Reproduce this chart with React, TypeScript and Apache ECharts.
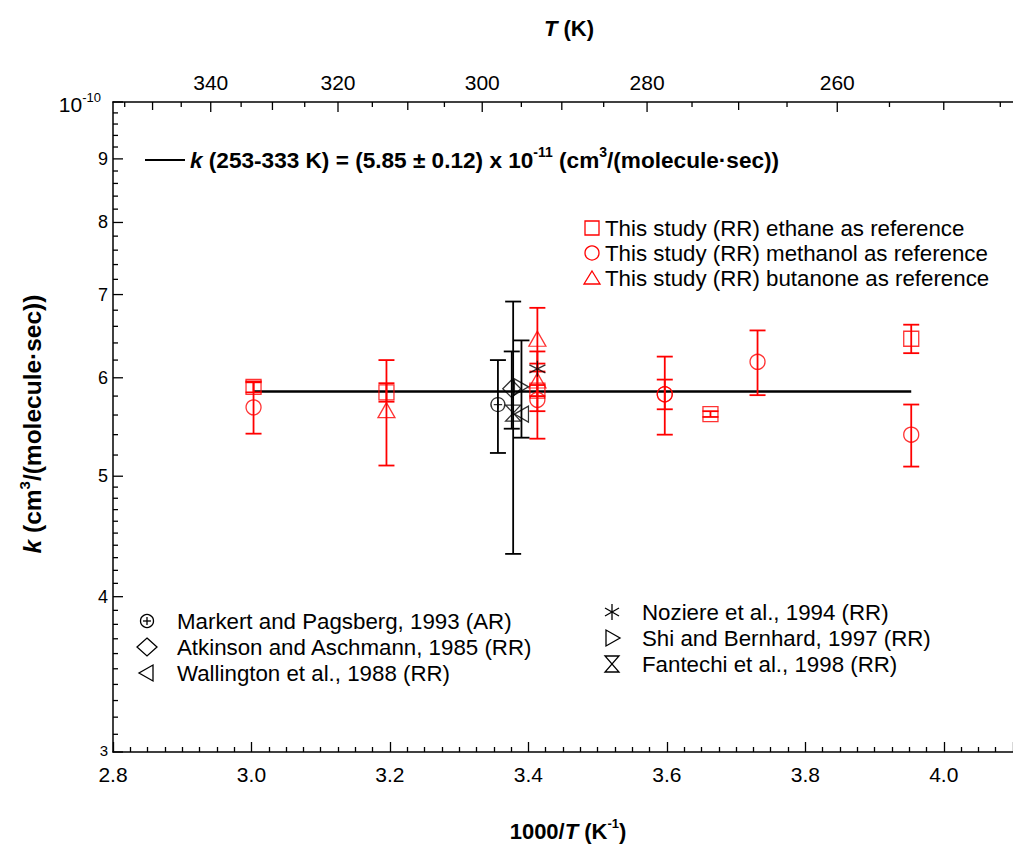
import React, { useEffect, useRef } from "react";
import * as echarts from "echarts";

const FONT = "'Liberation Sans', Arial, sans-serif";
const RED = "#ff0000";
const BLACK = "#000000";

// ---- axes ----
const xMin = 2.8;
const xMax = 4.1;
const xStep = 0.2;
const yMin = 3;
const yMax = 10;
const yMajorTicks = [3, 4, 5, 6, 7, 8, 9, 10];
const yLabelValues = [3, 4, 5, 6, 7, 8, 9];
const yMinorTicks = [
  3.1, 3.2, 3.3, 3.4, 3.5, 3.6, 3.7, 3.8, 3.9,
  4.1, 4.2, 4.3, 4.4, 4.5, 4.6, 4.7, 4.8, 4.9,
  5.2, 5.4, 5.6, 5.8, 6.2, 6.4, 6.6, 6.8, 7.2, 7.4, 7.6, 7.8,
  8.2, 8.4, 8.6, 8.8, 9.2, 9.4, 9.6, 9.8,
];
const topTickT = [355, 350, 345, 340, 335, 330, 325, 320, 315, 310, 305, 300, 295, 290, 285, 280, 275, 270, 265, 260, 255, 250, 245];
const topLabelT = [340, 320, 300, 280, 260];

// ---- fit line ----
const fitX = [3.003, 3.953];
const fitK = [5.85, 5.85];

// ---- this study (1000/T, k in 1e-11, error) ----
const ethaneX = [3.003, 3.195, 3.413, 3.663, 3.953];
const ethaneK = [5.9, 5.84, 5.86, 5.61, 6.45];
const ethaneErr = [0.06, 0.1, 0.06, 0.03, 0.17];

const methanolX = [3.003, 3.413, 3.597, 3.597, 3.731, 3.953];
const methanolK = [5.68, 5.76, 5.82, 5.82, 6.18, 5.4];
const methanolErr = [0.27, 0.4, 0.42, 0.16, 0.37, 0.31];

const butanoneX = [3.195, 3.413, 3.413];
const butanoneK = [5.65, 6.45, 5.97];
const butanoneErr = [0.55, 0.38, 0.33];

// ---- literature ----
const markertX = [3.356];
const markertK = [5.71];
const markertErr = [0.49];
const atkinsonX = [3.376];
const atkinsonK = [5.88];
const atkinsonErr = [0.42];
const wallingtonX = [3.39];
const wallingtonK = [5.61];
const noziereX = [3.413];
const noziereK = [6.1];
const shiX = [3.39];
const shiK = [5.9];
const shiErr = [0.53];
const fantechiX = [3.378];
const fantechiK = [5.62];
const fantechiErr = [1.29];

const SYM = {
  tri: "path://M10,0 L20,17 L0,17 Z",
  circlePlus: "path://M10,0 A10,10 0 1,1 9.99,0 Z M10,4 L10,16 M4,10 L16,10",
  diamond: "path://M10,0 L20,10 L10,20 L0,10 Z",
  triLeft: "path://M17,0 L17,20 L0,10 Z",
  triRight: "path://M0,0 L0,20 L17,10 Z",
  star: "path://M10,0 L10,20 M1,5 L19,15 M1,15 L19,5",
  hourglass: "path://M0,0 L20,0 L0,20 L20,20 Z",
};

function zip(xs: number[], ks: number[]) {
  return xs.map((x, i) => [x, ks[i]]);
}

function errSeries(xs: number[], ks: number[], errs: number[], color: string) {
  return {
    type: "custom",
    silent: true,
    z: 3,
    data: xs.map((x, i) => [x, ks[i] - errs[i], ks[i] + errs[i]]),
    encode: { x: 0, y: [1, 2] },
    renderItem: (_p: any, api: any) => {
      const x = api.value(0);
      const lo = api.coord([x, api.value(1)]);
      const hi = api.coord([x, api.value(2)]);
      const w = 8;
      const st = { stroke: color, lineWidth: 1.8 };
      return {
        type: "group",
        children: [
          { type: "line", shape: { x1: lo[0], y1: lo[1], x2: hi[0], y2: hi[1] }, style: st },
          { type: "line", shape: { x1: lo[0] - w, y1: lo[1], x2: lo[0] + w, y2: lo[1] }, style: st },
          { type: "line", shape: { x1: hi[0] - w, y1: hi[1], x2: hi[0] + w, y2: hi[1] }, style: st },
        ],
      };
    },
  };
}

function scatter(name: string, xs: number[], ks: number[], symbol: string, size: any, color: string) {
  return {
    type: "scatter",
    name,
    z: 4,
    symbol,
    symbolSize: size,
    itemStyle: { color: "none", borderColor: color, borderWidth: 1.3 },
    data: zip(xs, ks),
  };
}

function legendShape(kind: string, cx: number, cy: number, color: string): any[] {
  const st = { stroke: color, fill: "none", lineWidth: 1.3 };
  const s = 7;
  switch (kind) {
    case "square":
      return [{ type: "rect", shape: { x: cx - s, y: cy - s, width: 2 * s, height: 2 * s }, style: st }];
    case "circle":
      return [{ type: "circle", shape: { cx, cy, r: s }, style: st }];
    case "tri":
      return [{ type: "polygon", shape: { points: [[cx, cy - s], [cx + s + 1, cy + s - 1], [cx - s - 1, cy + s - 1]] }, style: st }];
    case "circlePlus":
      return [
        { type: "circle", shape: { cx, cy, r: 6.5 }, style: st },
        { type: "line", shape: { x1: cx - 4, y1: cy, x2: cx + 4, y2: cy }, style: st },
        { type: "line", shape: { x1: cx, y1: cy - 4, x2: cx, y2: cy + 4 }, style: st },
      ];
    case "diamond":
      return [{ type: "polygon", shape: { points: [[cx, cy - 9], [cx + 10, cy], [cx, cy + 9], [cx - 10, cy]] }, style: st }];
    case "triLeft":
      return [{ type: "polygon", shape: { points: [[cx + 6, cy - 8], [cx + 6, cy + 8], [cx - 8, cy]] }, style: st }];
    case "triRight":
      return [{ type: "polygon", shape: { points: [[cx - 6, cy - 8], [cx - 6, cy + 8], [cx + 8, cy]] }, style: st }];
    case "star":
      return [
        { type: "line", shape: { x1: cx, y1: cy - 8, x2: cx, y2: cy + 8 }, style: st },
        { type: "line", shape: { x1: cx - 7, y1: cy - 4, x2: cx + 7, y2: cy + 4 }, style: st },
        { type: "line", shape: { x1: cx - 7, y1: cy + 4, x2: cx + 7, y2: cy - 4 }, style: st },
      ];
    case "hourglass":
      return [{ type: "polygon", shape: { points: [[cx - 7, cy - 8], [cx + 7, cy - 8], [cx - 7, cy + 8], [cx + 7, cy + 8]] }, style: st }];
  }
  return [];
}

function legendBlock(items: [string, string, string][], sx: number, tx: number, ys: number[]) {
  const els: any[] = [];
  items.forEach(([kind, label, color], i) => {
    els.push(...legendShape(kind, sx, ys[i], color));
    els.push({
      type: "text",
      x: tx,
      y: ys[i],
      style: { text: label, fill: BLACK, fontSize: 22.3, fontFamily: FONT, align: "left", verticalAlign: "middle" },
    });
  });
  return els;
}

export default function App() {
  const ref = useRef<HTMLDivElement>(null);
  useEffect(() => {
    if (!ref.current) return;
    const chart = echarts.init(ref.current, null, { renderer: "svg" });

    const yTickSeries = {
      type: "custom",
      silent: true,
      z: 5,
      data: [...yMajorTicks.map((v) => [v, 10]), ...yMinorTicks.map((v) => [v, 5])],
      encode: { y: 0 },
      renderItem: (_p: any, api: any) => {
        const p = api.coord([xMin, api.value(0)]);
        return { type: "line", shape: { x1: p[0], y1: p[1], x2: p[0] + api.value(1), y2: p[1] }, style: { stroke: BLACK, lineWidth: 1.3 } };
      },
    };
    const yLabelSeries = {
      type: "custom",
      silent: true,
      z: 5,
      data: yLabelValues.map((v) => [v]),
      encode: { y: 0 },
      renderItem: (_p: any, api: any) => {
        const v = api.value(0);
        const p = api.coord([xMin, v]);
        return {
          type: "text",
          x: p[0] - 5,
          y: v === yMin ? p[1] - 2 : p[1],
          style: { text: String(v), fill: BLACK, fontSize: v === yMin ? 15 : 18, fontFamily: FONT, align: "right", verticalAlign: "middle" },
        };
      },
    };
    const topTickSeries = {
      type: "custom",
      silent: true,
      z: 5,
      data: topTickT.map((t) => [t]),
      encode: { x: 0 },
      renderItem: (_p: any, api: any) => {
        const t = api.value(0);
        const p = api.coord([1000 / t, yMax]);
        const len = topLabelT.indexOf(t) >= 0 ? 10 : t % 10 === 0 ? 8 : 5;
        return { type: "line", shape: { x1: p[0], y1: p[1], x2: p[0], y2: p[1] + len }, style: { stroke: BLACK, lineWidth: 1.3 } };
      },
    };
    const topLabelSeries = {
      type: "custom",
      silent: true,
      z: 5,
      data: topLabelT.map((t) => [t]),
      encode: { x: 0 },
      renderItem: (_p: any, api: any) => {
        const t = api.value(0);
        const p = api.coord([1000 / t, yMax]);
        return {
          type: "text",
          x: p[0],
          y: p[1] - 20,
          style: { text: String(t), fill: BLACK, fontSize: 21, fontFamily: FONT, align: "center", verticalAlign: "middle" },
        };
      },
    };

    const option: any = {
      animation: false,
      backgroundColor: "#ffffff",
      grid: { left: 113, right: -5, top: 102, bottom: 96, containLabel: false },
      xAxis: [
        {
          type: "value",
          min: xMin,
          max: xMax,
          interval: xStep,
          axisLine: { show: true, onZero: false, lineStyle: { color: BLACK, width: 1.5 } },
          axisTick: { show: true, inside: true, length: 10, lineStyle: { color: BLACK, width: 1.3 } },
          minorTick: { show: true, splitNumber: 8, length: 5, lineStyle: { color: BLACK, width: 1.3 } },
          splitLine: { show: false },
          axisLabel: {
            show: true,
            showMaxLabel: false,
            margin: 12,
            fontSize: 21,
            fontFamily: FONT,
            color: BLACK,
            formatter: (v: number) => v.toFixed(1),
          },
        },
        {
          type: "value",
          position: "top",
          min: xMin,
          max: xMax,
          axisLine: { show: true, onZero: false, lineStyle: { color: BLACK, width: 1.5 } },
          axisTick: { show: false },
          axisLabel: { show: false },
          splitLine: { show: false },
        },
      ],
      yAxis: {
        type: "log",
        logBase: 10,
        min: yMin,
        max: yMax,
        axisLine: { show: true, onZero: false, lineStyle: { color: BLACK, width: 1.5 } },
        axisTick: { show: false },
        axisLabel: { show: false },
        splitLine: { show: false },
      },
      graphic: [
        // fit legend
        { type: "line", shape: { x1: 145, y1: 160, x2: 185, y2: 160 }, style: { stroke: BLACK, lineWidth: 2 } },
        {
          type: "text",
          x: 190,
          y: 160,
          style: {
            text: "{i|k}{b| (253-333 K) = (5.85 ± 0.12) x 10}{s|-11}{b| (cm}{s|3}{b|/(molecule·sec))}",
            verticalAlign: "middle",
            align: "left",
            rich: {
              i: { fontSize: 22.6, fontWeight: "bold", fontStyle: "italic", fontFamily: FONT, fill: BLACK, lineHeight: 30 },
              b: { fontSize: 22.6, fontWeight: "bold", fontFamily: FONT, fill: BLACK, lineHeight: 30 },
              s: { fontSize: 14, fontWeight: "bold", fontFamily: FONT, fill: BLACK, lineHeight: 30, verticalAlign: "top" },
            },
          },
        },
        ...legendBlock(
          [
            ["square", "This study (RR) ethane as reference", RED],
            ["circle", "This study (RR) methanol as reference", RED],
            ["tri", "This study (RR) butanone as reference", RED],
          ],
          592,
          605,
          [228, 253, 278]
        ),
        ...legendBlock(
          [
            ["circlePlus", "Markert and Pagsberg, 1993 (AR)", BLACK],
            ["diamond", "Atkinson and Aschmann, 1985 (RR)", BLACK],
            ["triLeft", "Wallington et al., 1988 (RR)", BLACK],
          ],
          147,
          177,
          [621, 647, 673]
        ),
        ...legendBlock(
          [
            ["star", "Noziere et al., 1994 (RR)", BLACK],
            ["triRight", "Shi and Bernhard, 1997 (RR)", BLACK],
            ["hourglass", "Fantechi et al., 1998 (RR)", BLACK],
          ],
          612,
          642,
          [612, 638, 664]
        ),
        // top-left 10^-10 label
        {
          type: "text",
          x: 101,
          y: 104,
          style: {
            text: "{n|10}{s|-10}",
            align: "right",
            verticalAlign: "middle",
            rich: {
              n: { fontSize: 21, fontFamily: FONT, fill: BLACK, lineHeight: 26 },
              s: { fontSize: 13, fontFamily: FONT, fill: BLACK, lineHeight: 26, verticalAlign: "top" },
            },
          },
        },
        // axis titles
        {
          type: "text",
          x: 569,
          y: 28,
          style: {
            text: "{i|T}{b| (K)}",
            align: "center",
            verticalAlign: "middle",
            rich: {
              i: { fontSize: 22, fontWeight: "bold", fontStyle: "italic", fontFamily: FONT, fill: BLACK },
              b: { fontSize: 22, fontWeight: "bold", fontFamily: FONT, fill: BLACK },
            },
          },
        },
        {
          type: "text",
          x: 568,
          y: 831,
          style: {
            text: "{b|1000/}{i|T}{b| (K}{s|-1}{b|)}",
            align: "center",
            verticalAlign: "middle",
            rich: {
              i: { fontSize: 22, fontWeight: "bold", fontStyle: "italic", fontFamily: FONT, fill: BLACK, lineHeight: 28 },
              b: { fontSize: 22, fontWeight: "bold", fontFamily: FONT, fill: BLACK, lineHeight: 28 },
              s: { fontSize: 13, fontWeight: "bold", fontFamily: FONT, fill: BLACK, lineHeight: 28, verticalAlign: "top" },
            },
          },
        },
        {
          type: "text",
          x: 32,
          y: 424,
          rotation: Math.PI / 2,
          style: {
            text: "{i|k}{b| (cm}{s|3}{b|/(molecule·sec))}",
            align: "center",
            verticalAlign: "middle",
            rich: {
              i: { fontSize: 24.5, fontWeight: "bold", fontStyle: "italic", fontFamily: FONT, fill: BLACK, lineHeight: 30 },
              b: { fontSize: 24.5, fontWeight: "bold", fontFamily: FONT, fill: BLACK, lineHeight: 30 },
              s: { fontSize: 15, fontWeight: "bold", fontFamily: FONT, fill: BLACK, lineHeight: 30, verticalAlign: "top" },
            },
          },
        },
      ],
      series: [
        yTickSeries,
        yLabelSeries,
        topTickSeries,
        topLabelSeries,
        {
          type: "line",
          name: "fit",
          z: 2,
          data: zip(fitX, fitK),
          symbol: "none",
          lineStyle: { color: BLACK, width: 2.5 },
        },
        errSeries(ethaneX, ethaneK, ethaneErr, RED),
        errSeries(methanolX, methanolK, methanolErr, RED),
        errSeries(butanoneX, butanoneK, butanoneErr, RED),
        errSeries(markertX, markertK, markertErr, BLACK),
        errSeries(atkinsonX, atkinsonK, atkinsonErr, BLACK),
        errSeries(shiX, shiK, shiErr, BLACK),
        errSeries(fantechiX, fantechiK, fantechiErr, BLACK),
        scatter("This study (RR) ethane as reference", ethaneX, ethaneK, "rect", 15, RED),
        scatter("This study (RR) methanol as reference", methanolX, methanolK, "circle", 15, RED),
        scatter("This study (RR) butanone as reference", butanoneX, butanoneK, SYM.tri, [17, 15], RED),
        scatter("Markert and Pagsberg, 1993 (AR)", markertX, markertK, SYM.circlePlus, 14, BLACK),
        scatter("Atkinson and Aschmann, 1985 (RR)", atkinsonX, atkinsonK, SYM.diamond, [18, 18], BLACK),
        scatter("Wallington et al., 1988 (RR)", wallingtonX, wallingtonK, SYM.triLeft, [14, 16], BLACK),
        scatter("Noziere et al., 1994 (RR)", noziereX, noziereK, SYM.star, [16, 16], BLACK),
        scatter("Shi and Bernhard, 1997 (RR)", shiX, shiK, SYM.triRight, [14, 16], BLACK),
        scatter("Fantechi et al., 1998 (RR)", fantechiX, fantechiK, SYM.hourglass, [15, 16], BLACK),
      ],
    };
    chart.setOption(option);
    return () => chart.dispose();
  }, []);
  return <div ref={ref} style={{ position: "fixed", left: 0, top: 0, width: 1013, height: 848, background: "#fff" }} />;
}
